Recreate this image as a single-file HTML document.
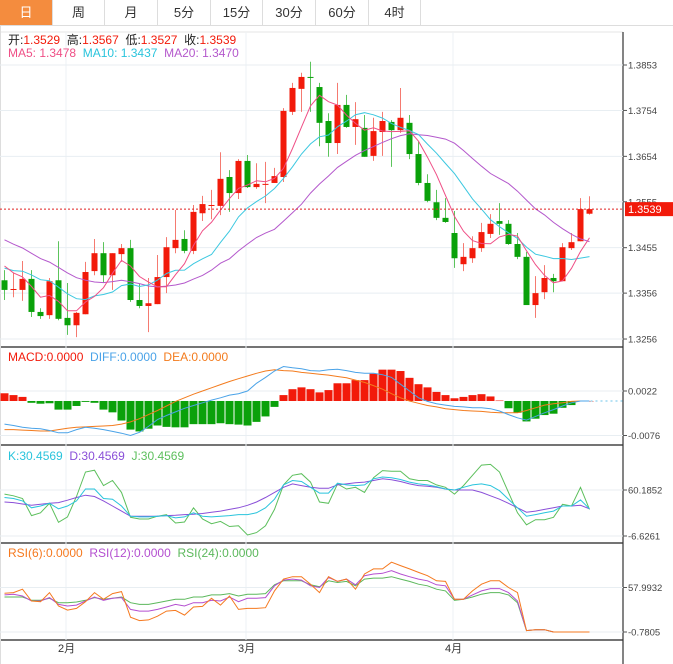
<!DOCTYPE html>
<html><head><meta charset="utf-8">
<style>
html,body{margin:0;padding:0;background:#fff;}
body{width:673px;height:664px;overflow:hidden;position:relative;font-family:"Liberation Sans","Noto Sans CJK SC",sans-serif;}
.tabs{position:absolute;left:0;top:0;height:25px;width:673px;border-bottom:1px solid #ddd;}
.tab{position:absolute;top:0;height:25px;line-height:25px;text-align:center;font-size:13px;color:#333;border-right:1px solid #ddd;box-sizing:border-box;}
.tab.active{background:#f48c3e;color:#fff;}
svg{position:absolute;left:0;top:0;}
</style></head><body>
<div class="tabs">
<div class="tab active" style="left:0;width:53px">日</div>
<div class="tab" style="left:53px;width:52px">周</div>
<div class="tab" style="left:105px;width:53px">月</div>
<div class="tab" style="left:158px;width:53px">5分</div>
<div class="tab" style="left:211px;width:52px">15分</div>
<div class="tab" style="left:263px;width:53px">30分</div>
<div class="tab" style="left:316px;width:53px">60分</div>
<div class="tab" style="left:369px;width:52px">4时</div>
</div>
<svg id="chart" width="673" height="664" style="top:0"></svg>
<script>
const openP=[1.3384,1.3365,1.3363,1.3387,1.3315,1.3308,1.3384,1.3302,1.3286,1.3310,1.3404,1.3443,1.3395,1.3441,1.3454,1.3341,1.3328,1.3332,1.3391,1.3454,1.3474,1.3448,1.3530,1.3548,1.3546,1.3609,1.3574,1.3644,1.3587,1.3594,1.3596,1.3609,1.3751,1.3801,1.3827,1.3805,1.3731,1.3683,1.3766,1.3718,1.3716,1.3655,1.3707,1.3729,1.3711,1.3727,1.3659,1.3596,1.3554,1.3520,1.3487,1.3419,1.3432,1.3454,1.3485,1.3513,1.3507,1.3463,1.3435,1.3330,1.3358,1.3389,1.3382,1.3454,1.3469,1.3529];
const highP=[1.3406,1.3400,1.3426,1.3406,1.3323,1.3389,1.3469,1.3378,1.3315,1.3424,1.3474,1.3467,1.3443,1.3463,1.3472,1.3376,1.3389,1.3439,1.3478,1.3537,1.3493,1.3548,1.3568,1.3581,1.3663,1.3624,1.3648,1.3657,1.3639,1.3642,1.3629,1.3759,1.3814,1.3836,1.3860,1.3814,1.3748,1.3814,1.3788,1.3772,1.3744,1.3738,1.3751,1.3733,1.3803,1.3744,1.3687,1.3615,1.3581,1.3563,1.3535,1.3465,1.3480,1.3509,1.3528,1.3552,1.3515,1.3487,1.3446,1.3393,1.3417,1.3398,1.3465,1.3487,1.3563,1.3567];
const lowP=[1.3341,1.3347,1.3339,1.3304,1.3300,1.3300,1.3297,1.3265,1.3260,1.3310,1.3395,1.3378,1.3363,1.3424,1.3337,1.3323,1.3271,1.3332,1.3356,1.3443,1.3443,1.3441,1.3513,1.3517,1.3526,1.3533,1.3561,1.3585,1.3583,1.3552,1.3596,1.3598,1.3744,1.3751,1.3751,1.3676,1.3653,1.3659,1.3716,1.3679,1.3653,1.3644,1.3655,1.3631,1.3705,1.3648,1.3591,1.3554,1.3515,1.3509,1.3411,1.3404,1.3422,1.3446,1.3476,1.3483,1.3461,1.3430,1.3330,1.3302,1.3343,1.3358,1.3382,1.3450,1.3469,1.3527];
const closeP=[1.3363,1.3365,1.3387,1.3315,1.3306,1.3382,1.3300,1.3286,1.3313,1.3402,1.3443,1.3395,1.3443,1.3454,1.3341,1.3328,1.3334,1.3391,1.3456,1.3472,1.3448,1.3533,1.3550,1.3548,1.3605,1.3574,1.3644,1.3587,1.3594,1.3594,1.3611,1.3753,1.3803,1.3827,1.3825,1.3727,1.3683,1.3766,1.3718,1.3735,1.3653,1.3709,1.3731,1.3711,1.3738,1.3659,1.3596,1.3557,1.3520,1.3511,1.3432,1.3435,1.3454,1.3489,1.3507,1.3507,1.3463,1.3435,1.3330,1.3356,1.3389,1.3382,1.3456,1.3467,1.3539,1.3539];
const preCloses=[1.3560,1.3550,1.3545,1.3540,1.3535,1.3530,1.3525,1.3520,1.3515,1.3520,1.3420,1.3400,1.3395,1.3410,1.3405,1.3440,1.3430,1.3420,1.3422];
const priceTicks=[1.3853,1.3754,1.3654,1.3555,1.3455,1.3356,1.3256];
const macdHist=[0.0017,0.0013,0.0009,-0.0004,-0.0006,-0.0005,-0.0019,-0.0019,-0.0011,-0.0002,-0.0004,-0.0019,-0.0025,-0.0043,-0.0063,-0.0067,-0.0061,-0.0054,-0.0057,-0.0058,-0.0058,-0.0051,-0.0051,-0.0051,-0.0049,-0.0051,-0.0052,-0.0054,-0.0046,-0.0034,-0.0013,0.0013,0.0026,0.0030,0.0026,0.0019,0.0024,0.0039,0.0039,0.0046,0.0046,0.0060,0.0069,0.0069,0.0066,0.0051,0.0037,0.0030,0.0020,0.0013,0.0006,0.0009,0.0013,0.0015,0.0010,0.0001,-0.0016,-0.0026,-0.0045,-0.0039,-0.0031,-0.0028,-0.0015,-0.0009,0,0];
const diffLine=[-0.0051,-0.0054,-0.0058,-0.0060,-0.0061,-0.0065,-0.0070,-0.0070,-0.0063,-0.0058,-0.0060,-0.0063,-0.0067,-0.0071,-0.0076,-0.0069,-0.0056,-0.0041,-0.0032,-0.0024,-0.0016,-0.0010,-0.0004,0.0002,0.0007,0.0013,0.0016,0.0022,0.0039,0.0052,0.0066,0.0076,0.0073,0.0071,0.0067,0.0066,0.0069,0.0070,0.0067,0.0063,0.0061,0.0061,0.0058,0.0052,0.0037,0.0022,0.0007,-0.0001,-0.0006,-0.0009,-0.0012,-0.0013,-0.0015,-0.0015,-0.0017,-0.0022,-0.0030,-0.0037,-0.0042,-0.0034,-0.0026,-0.0019,-0.0011,-0.0004,0,0];
const deaLine=[-0.0063,-0.0063,-0.0064,-0.0065,-0.0066,-0.0066,-0.0063,-0.0060,-0.0058,-0.0057,-0.0056,-0.0055,-0.0054,-0.0051,-0.0046,-0.0039,-0.0030,-0.0021,-0.0011,-0.0001,0.0007,0.0015,0.0022,0.0029,0.0036,0.0043,0.0049,0.0055,0.0061,0.0066,0.0069,0.0067,0.0066,0.0063,0.0061,0.0059,0.0057,0.0054,0.0051,0.0046,0.0041,0.0034,0.0026,0.0016,0.0007,0,-0.0005,-0.0010,-0.0013,-0.0017,-0.0019,-0.0021,-0.0022,-0.0023,-0.0025,-0.0026,-0.0026,-0.0026,-0.0021,-0.0015,-0.0009,-0.0006,-0.0004,-0.0001,0,0];
const macdTicks=[0.0022,-0.0076];
const kLine=[49.3,47.8,44.3,34.4,36.9,40.9,32.9,36.9,44.3,61.6,61.6,47.8,46.8,36.9,22.1,21.1,21.1,22.1,23.0,19.6,21.1,27.0,22.1,21.1,22.1,23.0,24.5,24.5,27.0,34.4,46.8,67.6,74.0,72.5,64.1,55.7,55.7,70.1,67.6,66.6,67.6,76.5,79.0,78.0,75.5,71.6,69.1,67.6,65.1,61.6,60.2,64.1,67.6,69.1,66.6,59.2,46.8,34.4,22.1,24.5,27.0,29.5,36.9,36.9,45.8,32.9];
const dLine=[42.8,41.9,39.9,37.9,39.4,40.9,41.9,45.3,49.3,52.7,50.8,44.3,36.9,29.5,22.1,22.1,22.1,22.1,23.0,23.5,24.5,25.0,26.0,28.0,29.5,32.0,34.4,37.9,42.8,49.3,56.7,64.1,69.1,66.6,64.1,62.6,62.6,67.6,69.1,70.6,71.6,74.0,76.5,75.0,72.5,69.1,66.6,65.6,64.1,61.6,60.2,60.2,60.2,56.7,51.8,46.8,40.9,34.4,28.0,29.5,32.0,34.4,36.9,36.9,37.9,32.9];
const jLine=[54.2,51.8,47.8,23.0,27.0,40.9,13.2,21.1,50.8,86.4,88.9,66.6,74.0,56.7,20.6,18.1,18.1,22.1,24.5,12.2,13.7,34.4,18.1,11.2,14.6,7.2,8.2,-5.2,-1.7,8.2,32.0,67.6,81.5,83.9,71.6,42.8,40.9,69.1,61.6,64.1,56.7,78.0,88.4,87.4,87.4,76.5,74.0,74.0,67.6,64.1,54.2,66.6,81.5,96.3,97.3,86.4,56.7,27.0,9.7,17.1,17.1,20.6,39.4,36.9,64.1,32.0];
const kdjTicks=[60.1852,-6.6261];
const rsi6=[50.4,51.3,55.7,40.2,39.3,51.3,33.5,28.1,30.4,39.3,51.3,42.4,50.0,52.6,18.8,14.3,15.2,20.1,26.8,27.7,21.5,32.2,33.0,43.7,34.8,46.8,29.0,30.4,30.4,31.3,53.5,69.1,72.2,72.2,62.4,51.3,72.2,66.0,69.1,55.7,75.8,82.5,82.5,91.4,86.9,82.5,78.0,73.6,66.9,66.0,42.4,42.4,53.5,62.4,66.9,66.9,58.0,51.3,1.0,2.3,2.3,-0.8,-0.8,-0.8,-0.8,-0.8];
const rsi12=[48.2,49.1,46.8,40.2,40.2,44.6,35.7,33.5,34.8,40.2,45.5,41.1,43.7,44.6,29.0,26.8,26.8,29.0,32.2,35.7,33.5,37.9,37.9,41.1,40.2,45.5,39.3,43.7,43.7,44.6,60.2,67.8,69.1,67.8,60.2,58.0,71.3,66.0,69.1,61.5,73.6,75.8,76.7,80.2,75.8,72.2,69.1,66.9,61.5,60.2,42.4,42.4,48.2,53.5,56.6,56.6,51.3,40.2,1.0,2.3,2.3,-0.8,-0.8,-0.8,-0.8,-0.8];
const rsi24=[45.5,45.5,45.5,41.1,41.1,43.7,37.9,37.9,38.8,41.1,44.6,42.4,43.7,45.5,37.9,35.7,35.7,37.9,40.2,42.4,42.4,45.5,45.5,48.2,48.2,50.0,46.8,49.1,49.1,50.0,61.5,66.9,66.9,66.9,61.5,58.9,66.9,64.6,66.0,60.2,69.1,70.4,70.4,72.2,69.1,66.0,62.4,60.2,55.7,53.5,41.1,42.4,45.5,49.1,51.3,51.3,48.2,37.9,1.0,2.3,2.3,-0.8,-0.8,-0.8,-0.8,-0.8];
const rsiTicks=[57.9932,-0.7805];
const monthLabels=["2月","3月","4月"];
const monthIdx=[6.9,26.9,49.9];

const svg=document.getElementById('chart');
const NS='http://www.w3.org/2000/svg';
function mk(tag,attrs,parent){const e=document.createElementNS(NS,tag);for(const k in attrs)e.setAttribute(k,attrs[k]);(parent||svg).appendChild(e);return e;}
const AXIS_X=623;
const xAt=i=>4.5+9*i;
const yPrice=p=>65+(1.3853-p)*4590;
const yMacd=v=>391+(0.0022-v)*4541;
const yKdj=v=>490+(60.1852-v)*0.6885;
const yRsi=v=>587.5+(57.9932-v)*0.757;

// frame lines
[[32,347],[347,445],[445,543],[543,640]].forEach(([t,b])=>{});
let l;
l=mk('line',{x1:0,y1:32,x2:AXIS_X,y2:32,stroke:'#e6e6e6'});
[347,445,543,640].forEach(y=>{l=mk('line',{x1:0,y1:y,x2:AXIS_X,y2:y,stroke:'#222','stroke-width':1.2});

});
l=mk('line',{x1:AXIS_X,y1:32,x2:AXIS_X,y2:664,stroke:'#333','stroke-width':1.2});


l=mk('line',{x1:0.5,y1:25,x2:0.5,y2:664,stroke:'#ddd'});
[66,246,453].forEach(x=>{l=mk('line',{x1:x,y1:32,x2:x,y2:640,stroke:'#edf2f4'});

});

function tickLabel(y,txt,name){
  mk('line',{x1:AXIS_X,y1:y,x2:AXIS_X+4,y2:y,stroke:'#555'});
  const t=mk('text',{x:AXIS_X+5,y:y+3.5,'font-size':'9.5',fill:'#444'});t.textContent=txt;
  
  
}
function hgrid(y){const g=mk('line',{x1:0,y1:y,x2:AXIS_X,y2:y,stroke:'#e8eef2'});

}

priceTicks.forEach(p=>{hgrid(yPrice(p));tickLabel(yPrice(p),p.toFixed(4),'price-tick');});
macdTicks.forEach(v=>{hgrid(yMacd(v));tickLabel(yMacd(v),v.toFixed(4),'macd-tick');});
kdjTicks.forEach(v=>{hgrid(yKdj(v));tickLabel(yKdj(v),v.toFixed(4),'kdj-tick');});
rsiTicks.forEach(v=>{hgrid(yRsi(v));tickLabel(yRsi(v),v.toFixed(4),'rsi-tick');});

// moving averages
const full=preCloses.concat(closeP);
function ma(n){return closeP.map((c,i)=>{let s=0;for(let k=0;k<n;k++)s+=full[preCloses.length+i-k];return s/n;});}
function poly(vals,yf,color,name,w){
  const pts=vals.map((v,i)=>xAt(i).toFixed(1)+','+yf(v).toFixed(1)).join(' ');
  const p=mk('polyline',{points:pts,fill:'none',stroke:color,'stroke-width':w||1});
  
  
  return p;
}
// candles
closeP.forEach((c,i)=>{
  const o=openP[i],up=c>=o;const col=up?'#f21a0a':'#0aa10a';const wc=up?'#f57a70':'#5cc45c';
  const x=xAt(i);
  const g=mk('g',{});
  
  
  mk('line',{x1:x,y1:yPrice(highP[i]),x2:x,y2:yPrice(lowP[i]),stroke:wc,'stroke-width':1},g);
  const top=Math.min(yPrice(o),yPrice(c));const h=Math.max(1,Math.abs(yPrice(o)-yPrice(c)));
  mk('rect',{x:x-3,y:top,width:6,height:h,fill:col},g);
});
poly(ma(20),yPrice,'#b458cc','ma20-line');
poly(ma(10),yPrice,'#3cc8e0','ma10-line');
poly(ma(5),yPrice,'#ef4f86','ma5-line');

// current price
const last=closeP[closeP.length-1];
l=mk('line',{x1:0,y1:yPrice(last),x2:AXIS_X,y2:yPrice(last),stroke:'#e02020','stroke-dasharray':'2,2'});


const r=mk('rect',{x:625,y:yPrice(last)-7,width:48,height:14,fill:'#f21a0a'});


let t=mk('text',{x:628,y:yPrice(last)+4,'font-size':'11',fill:'#fff'});t.textContent=last.toFixed(4);

// MACD
macdHist.forEach((v,i)=>{
  const y0=yMacd(0),y1=yMacd(v);
  const b=mk('rect',{x:xAt(i)-4,y:Math.min(y0,y1),width:8,height:Math.max(0.5,Math.abs(y1-y0)),fill:v>=0?'#f21a0a':'#0aa10a'});
  
  
});
l=mk('line',{x1:xAt(64),y1:yMacd(0),x2:AXIS_X,y2:yMacd(0),stroke:'#6cc4ea','stroke-dasharray':'2,3'});
poly(deaLine,yMacd,'#f37b1d','dea-line');
poly(diffLine,yMacd,'#4aa3e8','diff-line');

// KDJ
poly(jLine,yKdj,'#5cbf5c','kdj-j-line');
poly(dLine,yKdj,'#8a4fd8','kdj-d-line');
poly(kLine,yKdj,'#29c4dc','kdj-k-line');

// RSI
poly(rsi24,yRsi,'#5cb85c','rsi24-line');
poly(rsi12,yRsi,'#b44fd0','rsi12-line');
poly(rsi6,yRsi,'#f5791f','rsi6-line');

// month labels
monthLabels.forEach((m,i)=>{
  const tx=mk('text',{x:xAt(monthIdx[i]),y:652,'font-size':'11',fill:'#333','text-anchor':'middle'});
  tx.textContent=m;
  
  
});

// legends
function legend(y,items,name){
  const tx=mk('text',{x:8,y:y,'font-size':'12'});
  
  
  items.forEach(([s,c])=>{const ts=mk('tspan',{fill:c},tx);ts.textContent=s;});
}
legend(44,[['开:','#222'],['1.3529  ','#f21a0a'],['高:','#222'],['1.3567  ','#f21a0a'],['低:','#222'],['1.3527  ','#f21a0a'],['收:','#222'],['1.3539','#f21a0a']],'ohlc-legend');
legend(57,[['MA5: 1.3478  ','#ef4f86'],['MA10: 1.3437  ','#29c4dc'],['MA20: 1.3470','#b458cc']],'ma-legend');
legend(361,[['MACD:0.0000  ','#f21a0a'],['DIFF:0.0000  ','#4aa3e8'],['DEA:0.0000','#f37b1d']],'macd-legend');
legend(460,[['K:30.4569  ','#29c4dc'],['D:30.4569  ','#8a4fd8'],['J:30.4569','#5cbf5c']],'kdj-legend');
legend(557,[['RSI(6):0.0000  ','#f5791f'],['RSI(12):0.0000  ','#b44fd0'],['RSI(24):0.0000','#5cb85c']],'rsi-legend');
document.querySelectorAll('#ohlc-legend tspan, text tspan').forEach(s=>s.setAttribute('xml:space','preserve'));
document.querySelectorAll('svg text').forEach(s=>s.setAttribute('style','white-space:pre'));
</script>
</body></html>
